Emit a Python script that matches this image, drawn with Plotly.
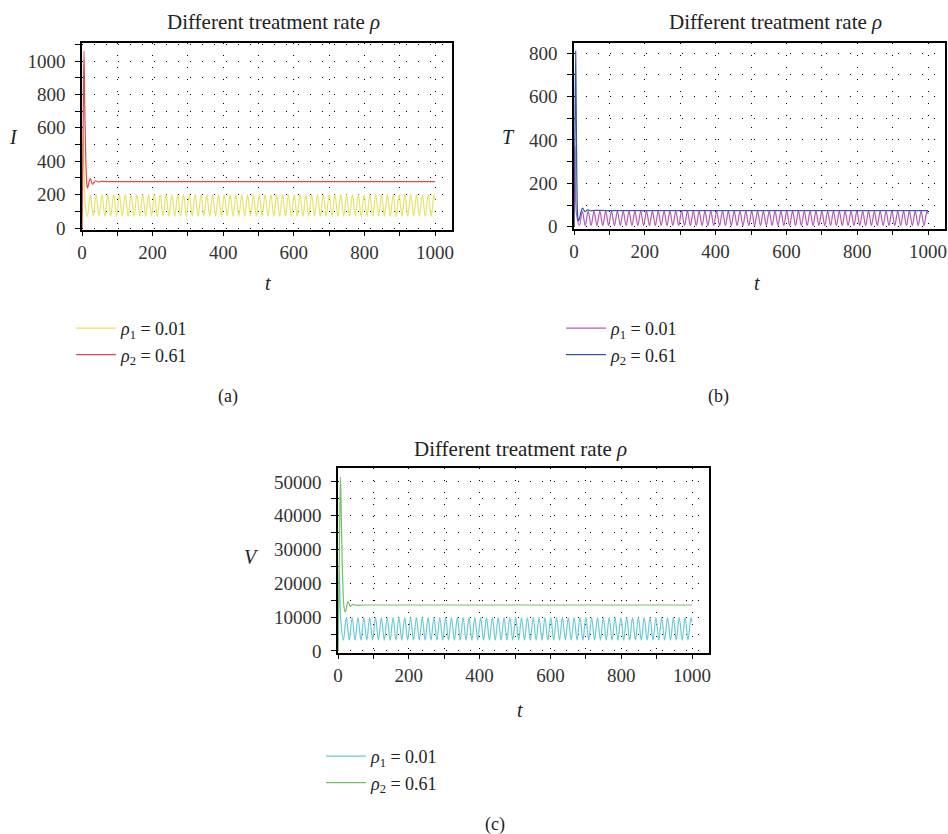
import plotly.graph_objects as go

# ---------------- data ----------------
# times of the successive maxima / minima of the sustained oscillation (rho1 curves)
t_osc = [
    23.5, 31.75, 40, 48.25, 56.5, 64.75, 73, 81.25, 89.5, 97.75,
    106, 114.25, 122.5, 130.75, 139, 147.25, 155.5, 163.75, 172, 180.25,
    188.5, 196.75, 205, 213.25, 221.5, 229.75, 238, 246.25, 254.5, 262.75,
    271, 279.25, 287.5, 295.75, 304, 312.25, 320.5, 328.75, 337, 345.25,
    353.5, 361.75, 370, 378.25, 386.5, 394.75, 403, 411.25, 419.5, 427.75,
    436, 444.25, 452.5, 460.75, 469, 477.25, 485.5, 493.75, 502, 510.25,
    518.5, 526.75, 535, 543.25, 551.5, 559.75, 568, 576.25, 584.5, 592.75,
    601, 609.25, 617.5, 625.75, 634, 642.25, 650.5, 658.75, 667, 675.25,
    683.5, 691.75, 700, 708.25, 716.5, 724.75, 733, 741.25, 749.5, 757.75,
    766, 774.25, 782.5, 790.75, 799, 807.25, 815.5, 823.75, 832, 840.25,
    848.5, 856.75, 865, 873.25, 881.5, 889.75, 898, 906.25, 914.5, 922.75,
    931, 939.25, 947.5, 955.75, 964, 972.25, 980.5, 988.75, 997]

# (a) infected cells I
I1_start_t = [0, 1.5, 3, 6, 10, 15.25]
I1_start_v = [0, 300, 540, 330, 120, 70]
I1_osc = [
    200, 70, 200, 70, 200, 70, 200, 70, 200, 70,
    200, 70, 200, 70, 200, 70, 200, 70, 200, 70,
    200, 70, 200, 70, 200, 70, 200, 70, 200, 70,
    200, 70, 200, 70, 200, 70, 200, 70, 200, 70,
    200, 70, 200, 70, 200, 70, 200, 70, 200, 70,
    200, 70, 200, 70, 200, 70, 200, 70, 200, 70,
    200, 70, 200, 70, 200, 70, 200, 70, 200, 70,
    200, 70, 200, 70, 200, 70, 200, 70, 200, 70,
    200, 70, 200, 70, 200, 70, 200, 70, 200, 70,
    200, 70, 200, 70, 200, 70, 200, 70, 200, 70,
    200, 70, 200, 70, 200, 70, 200, 70, 200, 70,
    200, 70, 200, 70, 200, 70, 200, 70, 200]
I1_end_t = [1000]
I1_end_v = [170]
I2_t = [0, 3, 5.7, 8, 11, 13.5, 15, 16.5, 23.5, 30, 38, 46, 55, 70, 1000]
I2_v = [0, 550, 1060, 700, 400, 270, 240, 245, 296, 262, 283, 275, 279, 278, 278]

# (b) T cells T
T1_start_t = [0, 1.5, 3, 7, 15.25]
T1_start_v = [0, 200, 370, 60, 6]
T1_osc = [
    72, 6, 72, 6, 72, 6, 72, 6, 72, 6,
    72, 6, 72, 6, 72, 6, 72, 6, 72, 6,
    72, 6, 72, 6, 72, 6, 72, 6, 72, 6,
    72, 6, 72, 6, 72, 6, 72, 6, 72, 6,
    72, 6, 72, 6, 72, 6, 72, 6, 72, 6,
    72, 6, 72, 6, 72, 6, 72, 6, 72, 6,
    72, 6, 72, 6, 72, 6, 72, 6, 72, 6,
    72, 6, 72, 6, 72, 6, 72, 6, 72, 6,
    72, 6, 72, 6, 72, 6, 72, 6, 72, 6,
    72, 6, 72, 6, 72, 6, 72, 6, 72, 6,
    72, 6, 72, 6, 72, 6, 72, 6, 72, 6,
    72, 6, 72, 6, 72, 6, 72, 6, 72]
T1_end_t = [1000]
T1_end_v = [60]
T2_t = [0, 2.5, 4.8, 7, 10, 12, 14, 24, 31, 38, 46, 60, 90, 1000]
T2_v = [0, 420, 810, 400, 60, 28, 32, 86, 70, 78, 74, 75.5, 75, 75]

# (c) virus V
V1_start_t = [0, 2, 4, 8, 15.25]
V1_start_v = [0, 14000, 24000, 9000, 3200]
V1_osc = [
    9900, 3200, 9900, 3200, 9900, 3200, 9900, 3200, 9900, 3200,
    9900, 3200, 9900, 3200, 9900, 3200, 9900, 3200, 9900, 3200,
    9900, 3200, 9900, 3200, 9900, 3200, 9900, 3200, 9900, 3200,
    9900, 3200, 9900, 3200, 9900, 3200, 9900, 3200, 9900, 3200,
    9900, 3200, 9900, 3200, 9900, 3200, 9900, 3200, 9900, 3200,
    9900, 3200, 9900, 3200, 9900, 3200, 9900, 3200, 9900, 3200,
    9900, 3200, 9900, 3200, 9900, 3200, 9900, 3200, 9900, 3200,
    9900, 3200, 9900, 3200, 9900, 3200, 9900, 3200, 9900, 3200,
    9900, 3200, 9900, 3200, 9900, 3200, 9900, 3200, 9900, 3200,
    9900, 3200, 9900, 3200, 9900, 3200, 9900, 3200, 9900, 3200,
    9900, 3200, 9900, 3200, 9900, 3200, 9900, 3200, 9900, 3200,
    9900, 3200, 9900, 3200, 9900, 3200, 9900, 3200, 9900]
V1_end_t = [1000]
V1_end_v = [8500]
V2_t = [0, 3.5, 7, 10, 13, 17, 20.5, 22, 28, 35, 42, 50, 80, 1000]
V2_v = [0, 26000, 51500, 36000, 22000, 13000, 11600, 11800, 14600, 13200, 13800, 13550, 13600, 13600]

legend_labels = ["<i>ρ</i><sub>1</sub> = 0.01", "<i>ρ</i><sub>2</sub> = 0.61"]
panel_title = "Different treatment rate <i>ρ</i>"
y_titles = ["I", "T", "V"]
panel_tags = ["(a)", "(b)", "(c)"]

assert len(t_osc) == len(I1_osc) == len(T1_osc) == len(V1_osc)

# ---------------- figure ----------------
FONT = "Liberation Serif"
TXT = "#222222"
W, H = 948, 834

def px(x):
    return x / W

def py(y):
    return 1 - y / H

fig = go.Figure()

def add(t, v, color, name, xa, ya, leg):
    fig.add_trace(go.Scatter(
        x=t, y=v, mode="lines", name=name,
        line=dict(color=color, width=1.2, shape="spline", smoothing=1.0),
        xaxis=xa, yaxis=ya, legend=leg, hoverinfo="skip"))

add(I1_start_t + t_osc + I1_end_t, I1_start_v + I1_osc + I1_end_v,
    "#e6e36a", legend_labels[0], "x", "y", "legend")
add(I2_t, I2_v, "#e2474e", legend_labels[1], "x", "y", "legend")

add(T1_start_t + t_osc + T1_end_t, T1_start_v + T1_osc + T1_end_v,
    "#b25db6", legend_labels[0], "x2", "y2", "legend2")
add(T2_t, T2_v, "#3557a8", legend_labels[1], "x2", "y2", "legend2")

add(V1_start_t + t_osc + V1_end_t, V1_start_v + V1_osc + V1_end_v,
    "#6ccbd3", legend_labels[0], "x3", "y3", "legend3")
add(V2_t, V2_v, "#76c063", legend_labels[1], "x3", "y3", "legend3")

tickfont = dict(family=FONT, size=19, color="#333333")
GRID = dict(showgrid=True, gridcolor="black", gridwidth=1, griddash="1px,11px")

def xaxis(dom, rng, anchor):
    return dict(domain=dom, range=rng, anchor=anchor, automargin=False,
                tickmode="array", tickvals=[0, 200, 400, 600, 800, 1000],
                showline=True, linecolor="black", linewidth=1.5, mirror=True,
                ticks="outside", ticklen=4, tickcolor="black", tickwidth=1,
                zeroline=False, tickfont=tickfont, ticklabelstandoff=0, **GRID,
                minor=dict(dtick=100, tick0=0, ticks="outside", ticklen=4,
                           tickcolor="black", **GRID))

def yaxis(dom, rng, dt, mdt, anchor):
    return dict(domain=dom, range=rng, dtick=dt, tick0=0, anchor=anchor,
                automargin=False, tickformat="d",
                showline=True, linecolor="black", linewidth=1.5, mirror=True,
                ticks="outside", ticklen=5, tickcolor="black", tickwidth=1,
                zeroline=False, tickfont=tickfont, ticklabelstandoff=6, **GRID,
                minor=dict(dtick=mdt, tick0=0, ticks="outside", ticklen=5,
                           tickcolor="black", **GRID))

fig.update_layout(
    width=W, height=H, margin=dict(l=0, r=0, t=0, b=0, autoexpand=False),
    paper_bgcolor="white", plot_bgcolor="white",
    font=dict(family=FONT, size=18, color=TXT),
    xaxis=xaxis([px(82), px(452)], [0, 1048], "y"),
    yaxis=yaxis([py(230), py(43)], [-12, 1108], 200, 100, "x"),
    xaxis2=xaxis([px(574), px(945)], [0, 1048], "y2"),
    yaxis2=yaxis([py(229), py(43)], [-10, 846], 200, 100, "x2"),
    xaxis3=xaxis([px(338), px(709)], [0, 1048], "y3"),
    yaxis3=yaxis([py(653), py(468)], [-600, 54140], 10000, 5000, "x3"),
)

legend_common = dict(xanchor="left", yanchor="top", bgcolor="rgba(0,0,0,0)",
                     font=dict(family=FONT, size=18, color=TXT),
                     tracegroupgap=0, itemwidth=40, traceorder="normal")
fig.update_layout(
    legend=dict(legend_common, x=px(71), y=py(310)),
    legend2=dict(legend_common, x=px(561), y=py(310)),
    legend3=dict(legend_common, x=px(321), y=py(738)),
)

def note(cx, cy, text, size):
    return dict(x=px(cx), y=py(cy), xref="paper", yref="paper", text=text,
                xanchor="center", yanchor="middle", showarrow=False,
                font=dict(family=FONT, size=size, color=TXT))

ann = []
for cx, cy in [(273, 22), (775, 22), (520, 449)]:
    ann.append(note(cx, cy, panel_title, 21))
for (cx, cy), lab in zip([(13, 137), (508, 137), (252, 557)], y_titles):
    ann.append(note(cx, cy, "<i>" + lab + "</i>", 20))
for cx, cy in [(268, 283), (757, 283), (520, 710)]:
    ann.append(note(cx, cy, "<i>t</i>", 20))
for (cx, cy), lab in zip([(228, 397), (718, 397), (495, 824)], panel_tags):
    ann.append(note(cx, cy, lab, 18))
fig.update_layout(annotations=ann)

# the page body would otherwise add an 8 px margin around the figure
fig.write_html("out.html",
               config={"displayModeBar": False},
               post_script="document.body.style.margin='0px';"
                           "document.body.style.overflow='hidden';")
